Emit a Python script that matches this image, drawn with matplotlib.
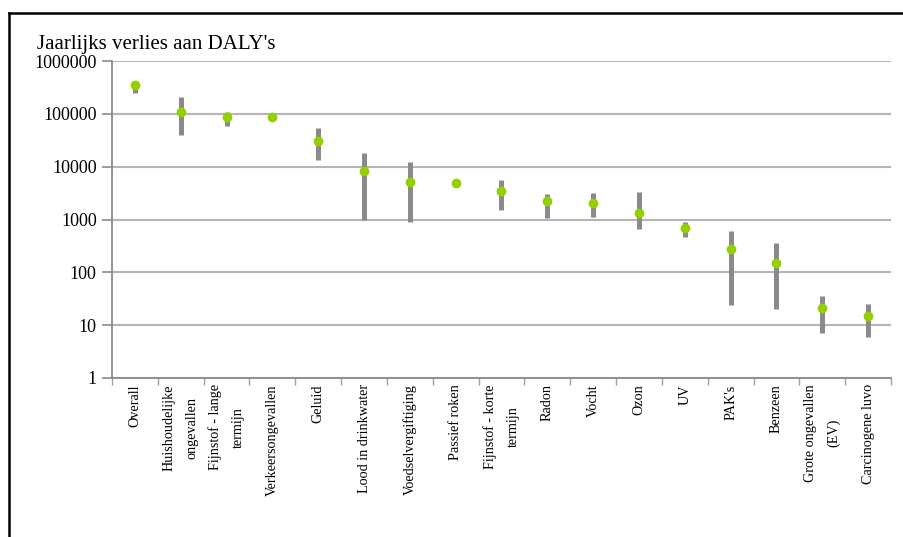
import matplotlib
matplotlib.use("Agg")
import matplotlib.pyplot as plt
from matplotlib.lines import Line2D
import numpy as np

categories = ["Overall", "Huishoudelijke\nongevallen", "Fijnstof - lange\ntermijn",
              "Verkeersongevallen", "Geluid", "Lood in drinkwater", "Voedselvergiftiging",
              "Passief roken", "Fijnstof - korte\ntermijn", "Radon", "Vocht", "Ozon", "UV",
              "PAK's", "Benzeen", "Grote ongevallen\n(EV)", "Carcinogene luvo"]
central = [350000, 110000, 88000, 87000, 31000, 8300, 5200, 5000, 3500, 2200, 2050,
           1330, 690, 280, 150, 21, 15]
low = [250000, 40000, 59000, 76000, 13500, 1000, 900, 4200, 1500, 1070, 1100,
       660, 470, 24, 20, 7, 6]
high = [420000, 210000, 110000, 95000, 54000, 18000, 12500, 5600, 5600, 3100, 3200,
        3350, 900, 610, 360, 36, 25]
yticks = [1, 10, 100, 1000, 10000, 100000, 1000000]

plt.rcParams['font.family'] = ['Liberation Serif', 'DejaVu Serif']

W, H = 904, 537
fig = plt.figure(figsize=(W / 100, H / 100), dpi=100)
ax = fig.add_axes([112 / W, 1 - 378 / H, (891 - 112) / W, (378 - 61) / H])

x = np.arange(len(categories))
ax.vlines(x, low, high, color='#8a8a8a', lw=3.6, zorder=3)
ax.plot(x, central, 'o', color='#94cf00', markersize=6, mec='#94cf00', zorder=4)

ax.set_yscale('log')
ax.set_ylim(1, 1000000)
ax.set_xlim(-0.5, len(categories) - 0.5)
ax.set_yticks(yticks)
ax.set_yticklabels([str(v) for v in yticks], fontsize=13)
ax.yaxis.set_minor_locator(matplotlib.ticker.NullLocator())
ax.tick_params(axis='y', length=7, color='#8a8a8a', width=1.2, pad=4)
ax.grid(axis='y', color='#b5b5b5', lw=1.5, zorder=0)

ax.set_xticks(np.arange(len(categories) + 1) - 0.5)
ax.set_xticklabels([])
ax.tick_params(axis='x', length=5, color='#a0a0a0', width=1.0)
for xi, lab in zip(x, categories):
    ax.text(xi, -0.02, lab, transform=ax.get_xaxis_transform(), rotation=90,
            ha='center', va='top', fontsize=10.2, linespacing=2.0,
            rotation_mode='default')

for s in ['top', 'right']:
    ax.spines[s].set_visible(False)
for s in ['left', 'bottom']:
    ax.spines[s].set_color('#8a8a8a')
    ax.spines[s].set_linewidth(1.3)

fig.text(37 / W, 1 - 45 / H, "Jaarlijks verlies aan DALY's", fontsize=15,
         ha='left', va='center')

fig.add_artist(Line2D([9 / W, 1], [1 - 13 / H, 1 - 13 / H], transform=fig.transFigure,
                      color='black', lw=1.8))
fig.add_artist(Line2D([9 / W, 9 / W], [1 - 13 / H, 0], transform=fig.transFigure,
                      color='black', lw=1.8))

fig.savefig("out.png", dpi=100)
